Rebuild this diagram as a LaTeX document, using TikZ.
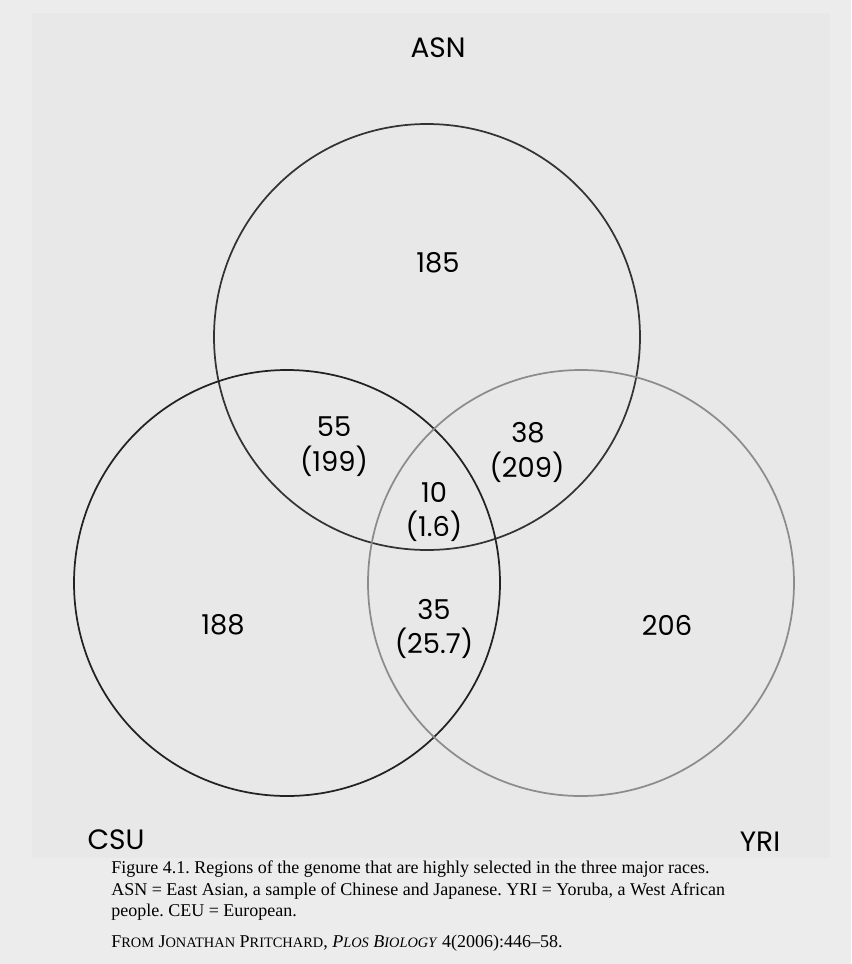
\documentclass[tikz,border=0pt]{standalone}
\usepackage{fontspec}
\setmainfont{Liberation Serif}
\newfontfamily\labelfont{Poppins}
\definecolor{bgouter}{HTML}{ECECEC}
\definecolor{bginner}{HTML}{E8E8E8}
\definecolor{asncol}{HTML}{333333}
\definecolor{csucol}{HTML}{222222}
\definecolor{yricol}{HTML}{8C8C8C}
\newcommand{\smc}[1]{{\fontsize{10.8}{12}\selectfont #1}}
\frenchspacing
\tikzset{
  venn/.style={line width=1.3pt},
  lbl/.style={font=\labelfont\fontsize{21}{24}\selectfont, text=black, inner sep=0pt},
  num/.style={font=\labelfont\fontsize{20.5}{23}\selectfont, text=black, inner sep=0pt},
  captext/.style={font=\fontsize{13.5}{15}\selectfont, anchor=base west, inner sep=0pt}
}
\begin{document}
\begin{tikzpicture}[x=0.75pt,y=-0.75pt]
\fill[bgouter] (0,0) rectangle (851,964);
\useasboundingbox (0,0) rectangle (851,964);
\fill[bginner] (32,13) rectangle (830,858);
% circles
\draw[venn, asncol] (427,337) circle [radius=159.75pt];
\draw[venn, csucol] (287,583) circle [radius=159.75pt];
\draw[venn, yricol] (581,583) circle [radius=159.75pt];
% set labels
\node[lbl] (asn) at (438,48) {ASN};
\node[lbl] (csu) at (116,840) {CSU};
\node[lbl] (yri) at (760,842) {YRI};
% region counts
\node[num] (n185) at (438,263) {185};
\node[num] (n55) at (334,427) {55};
\node[num] (p199) at (334,461) {(199)};
\node[num] (n38) at (528,433) {38};
\node[num] (p209) at (527,467) {(209)};
\node[num] (n10) at (434,492) {10};
\node[num] (p16) at (434,526) {(1.6)};
\node[num] (n188) at (223,625) {188};
\node[num] (n35) at (434,609) {35};
\node[num] (p257) at (434,643) {(25.7)};
\node[num] (n206) at (667,625) {206};
% caption
\node[captext] (c1) at (111,873) {Figure 4.1. Regions of the genome that are highly selected in the three major races.};
\node[captext] (c2) at (111,895) {ASN = East Asian, a sample of Chinese and Japanese. YRI = Yoruba, a West African};
\node[captext] (c3) at (111,916) {people. CEU = European.};
\node[captext] (c4) at (111,947) {F\smc{ROM} J\smc{ONATHAN} P\smc{RITCHARD}, \textit{P\smc{LOS} B\smc{IOLOGY}} 4(2006):446--58.};
\end{tikzpicture}
\end{document}
